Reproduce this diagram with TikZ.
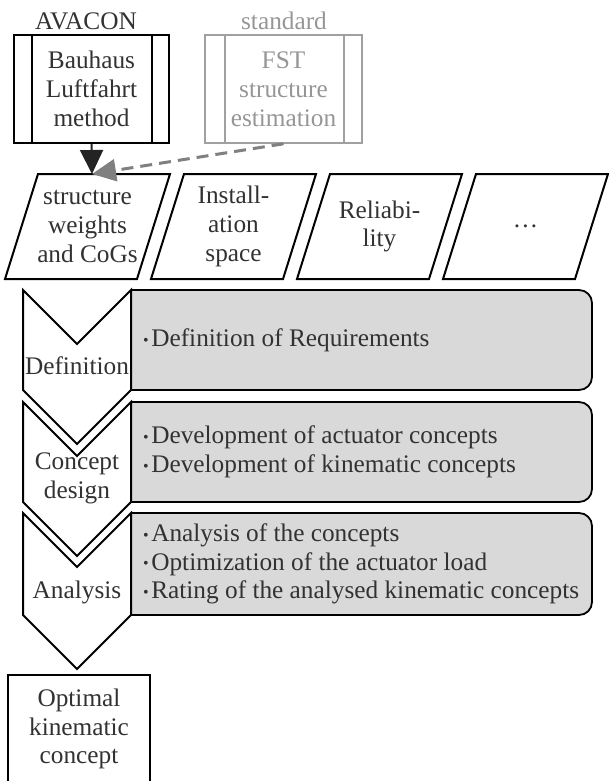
\documentclass[tikz,border=0pt]{standalone}
\usepackage{fontspec}
\setmainfont{Liberation Serif}
\usetikzlibrary{arrows.meta,calc}
\definecolor{txt}{RGB}{50,50,50}
\definecolor{boxgray}{RGB}{217,217,217}
\definecolor{lightline}{RGB}{160,160,160}
\definecolor{lighttxt}{RGB}{150,150,150}
\definecolor{arrgray}{RGB}{128,128,128}
\definecolor{arrdark}{RGB}{35,35,35}
\newcommand{\mybul}{\raisebox{1.2pt}{\fontsize{16}{16}\selectfont\textbullet}\hspace{2.5pt}}
\tikzset{
  lbl/.style={text=txt, inner sep=0pt, align=center},
  procbox/.style={draw=black, line width=2pt, fill=white, minimum width=155pt, minimum height=108pt, inner sep=0pt, align=center, text=txt},
  fstbox/.style={draw=lightline, line width=1.6pt, minimum width=157pt, minimum height=108pt, inner sep=0pt, align=center, text=lighttxt},
  para/.style={draw=black, line width=2pt, fill=white, line join=miter},
  chev/.style={draw=black, line width=2pt, fill=white, line join=miter},
  graybox/.style={draw=black, line width=1.8pt, fill=boxgray, rounded corners=13pt},
  boxtext/.style={text=txt, inner sep=0pt, align=left, anchor=west},
  darkarrow/.style={draw=arrdark, line width=2pt, -{Triangle[length=24pt,width=23pt]}},
  dasharrow/.style={draw=arrgray, line width=3pt, dash pattern=on 12pt off 7pt, -{Triangle[length=24pt,width=22pt]}},
  endbox/.style={draw=black, line width=2pt, fill=white, minimum width=142pt, minimum height=108pt, inner sep=0pt, align=center, text=txt}
}
\begin{document}
\begin{tikzpicture}[x=1pt,y=-1pt, font=\fontsize{25.3}{28.8}\selectfont]
\useasboundingbox (0,0) rectangle (609,781);

% top sources
\node[lbl] (avacon) at (86,21) {AVACON};
\node[procbox] (bl) at (91.5,89) {Bauhaus\\Luftfahrt\\method};
\draw[line width=2pt] ($(bl.north west)+(19,0)$) -- ($(bl.south west)+(19,0)$);
\draw[line width=2pt] ($(bl.north east)+(-18,0)$) -- ($(bl.south east)+(-18,0)$);

\node[lbl, text=lighttxt] (std) at (284,21) {standard};
\node[fstbox] (fst) at (283.5,89) {FST\\structure\\estimation};
\draw[draw=lightline, line width=1.6pt] ($(fst.north west)+(21,0)$) -- ($(fst.south west)+(21,0)$);
\draw[draw=lightline, line width=1.6pt] ($(fst.north east)+(-19,0)$) -- ($(fst.south east)+(-19,0)$);

% parallelograms
\foreach \i/\t in {1/{structure\\weights\\and CoGs}, 2/{Install-\\ation\\space}, 3/{Reliabi-\\lity}, 4/{…}} {
  \pgfmathsetmacro{\tl}{38+146*(\i-1)}
  \path[para] (\tl,174) -- (\tl+132,174) -- (\tl+99,279) -- (\tl-33,279) -- cycle;
  \node[lbl] (p\i) at (\tl+49.5,226.5) {\t};
}
\coordinate (p1t) at (92,174);

\draw[darkarrow] (bl.south) -- (p1t);
\draw[dasharrow] (fst.south) -- (p1t);

% gray boxes
\path[graybox] (131,290) -- (592,290) -- (592,390) -- (131,390);
\path[graybox] (131,402) -- (592,402) -- (592,502) -- (131,502);
\path[graybox] (131,513) -- (592,513) -- (592,615) -- (131,615);

\node[boxtext] (d1) at (143,340) {\mybul Definition of Requirements};
\node[boxtext] (d2) at (143,452) {\mybul Development of actuator concepts\\\mybul Development of kinematic concepts};
\node[boxtext] (d3) at (143,564) {\mybul Analysis of the concepts\\\mybul Optimization of the actuator load\\\mybul Rating of the analysed kinematic concepts};

% chevrons
\path[chev] (23,290) -- (77,344) -- (131,290) -- (131,390) -- (77,444) -- (23,390) -- cycle;
\path[chev] (23,402) -- (77,456) -- (131,402) -- (131,502) -- (77,556) -- (23,502) -- cycle;
\path[chev] (23,513) -- (77,567) -- (131,513) -- (131,615) -- (77,669) -- (23,615) -- cycle;

\node[lbl] (c1) at (77,366) {Definition};
\node[lbl] (c2) at (77,478) {Concept\\design};
\node[lbl] (c3) at (77,592) {Analysis};

% result
\node[endbox] (opt) at (79,729) {Optimal\\kinematic\\concept};
\end{tikzpicture}
\end{document}
